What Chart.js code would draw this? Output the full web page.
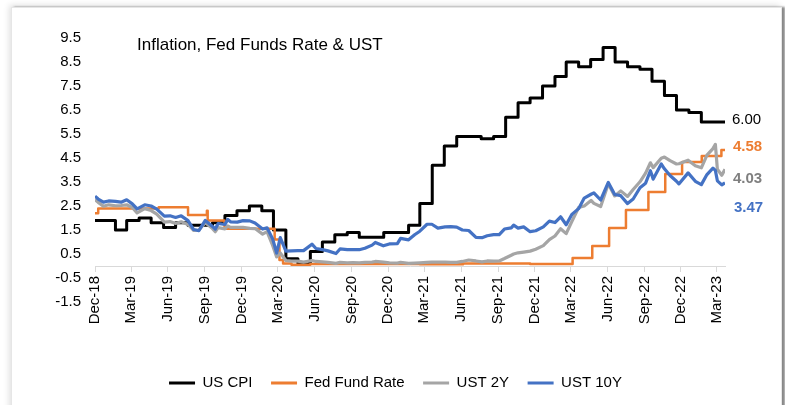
<!DOCTYPE html>
<html><head><meta charset="utf-8">
<script src="https://cdn.jsdelivr.net/npm/chart.js@4.4.1/dist/chart.umd.min.js"></script>
<style>
html,body{margin:0;padding:0;background:#fff;width:785px;height:405px;overflow:hidden;}
#frame{position:absolute;left:11px;top:7px;width:769px;height:420px;background:#fff;border:1px solid #e6e6e6;box-shadow:-2px -2px 6px rgba(0,0,0,0.12), 3px 0 2px rgba(0,0,0,0.45);}
#c{position:absolute;left:0;top:0;}
</style></head><body>
<div id="frame"></div>
<canvas id="c" width="785" height="405"></canvas>
<script>
// ---------- data ----------
const chartTitle = 'Inflation, Fed Funds Rate & UST';
const seriesNames = ['US CPI', 'Fed Fund Rate', 'UST 2Y', 'UST 10Y'];
const endLabels = ['6.00', '4.58', '4.03', '3.47'];

const xStart = '2018-12-12';
const xEnd = '2023-04-01';
const xTickDates = ['2018-12-12','2019-03-12','2019-06-12','2019-09-12','2019-12-12','2020-03-12','2020-06-12','2020-09-12','2020-12-12','2021-03-12','2021-06-12','2021-09-12','2021-12-12','2022-03-12','2022-06-12','2022-09-12','2022-12-12','2023-03-12'];
const xTickLabels = ['Dec-18','Mar-19','Jun-19','Sep-19','Dec-19','Mar-20','Jun-20','Sep-20','Dec-20','Mar-21','Jun-21','Sep-21','Dec-21','Mar-22','Jun-22','Sep-22','Dec-22','Mar-23'];
const yTicks = [-1.5,-0.5,0.5,1.5,2.5,3.5,4.5,5.5,6.5,7.5,8.5,9.5];

// US CPI YoY, monthly from Dec-18
const cpiMonths = ['2018-12','2019-01','2019-02','2019-03','2019-04','2019-05','2019-06','2019-07','2019-08','2019-09','2019-10','2019-11','2019-12',
 '2020-01','2020-02','2020-03','2020-04','2020-05','2020-06','2020-07','2020-08','2020-09','2020-10','2020-11','2020-12',
 '2021-01','2021-02','2021-03','2021-04','2021-05','2021-06','2021-07','2021-08','2021-09','2021-10','2021-11','2021-12',
 '2022-01','2022-02','2022-03','2022-04','2022-05','2022-06','2022-07','2022-08','2022-09','2022-10','2022-11','2022-12',
 '2023-01','2023-02'];
const cpiValues = [1.9,1.9,1.5,1.9,2.0,1.8,1.6,1.8,1.7,1.7,1.8,2.1,2.3,
 2.5,2.3,1.5,0.3,0.1,0.6,1.0,1.3,1.4,1.2,1.2,1.4,
 1.4,1.7,2.6,4.2,5.0,5.4,5.4,5.3,5.4,6.2,6.8,7.0,
 7.5,7.9,8.5,8.3,8.6,9.1,8.5,8.3,8.2,7.7,7.1,6.5,
 6.4,6.0];

// Fed funds effective rate, change dates
const fedDates = ['2018-12-12','2018-12-20','2019-05-20','2019-08-01','2019-09-17','2019-09-19','2019-10-31','2020-03-04','2020-03-16','2020-03-25','2020-04-15','2020-06-01','2021-03-01','2021-06-17','2021-12-01','2022-03-17','2022-05-05','2022-06-16','2022-07-28','2022-09-22','2022-11-03','2022-12-15','2023-02-02','2023-03-23'];
const fedValues = [2.20,2.40,2.45,2.13,2.30,1.90,1.55,1.10,0.25,0.10,0.05,0.08,0.07,0.10,0.08,0.33,0.83,1.58,2.33,3.08,3.83,4.33,4.58,4.83];

// Treasury yields
const ustDates = ['2018-12-12','2018-12-20','2019-01-02','2019-01-15','2019-02-01','2019-02-15','2019-03-01','2019-03-15','2019-03-27','2019-04-15','2019-05-01','2019-05-15','2019-06-03','2019-06-17','2019-07-01','2019-07-15','2019-08-01','2019-08-15','2019-08-28','2019-09-13','2019-10-01','2019-10-08','2019-10-15','2019-11-01','2019-11-08','2019-11-15','2019-12-02','2019-12-16',
 '2020-01-02','2020-01-15','2020-02-03','2020-02-14','2020-02-28','2020-03-09','2020-03-18','2020-04-01','2020-04-15','2020-05-01','2020-05-15','2020-06-05','2020-06-15','2020-07-01','2020-07-15','2020-08-04','2020-08-14','2020-09-01','2020-09-15','2020-10-01','2020-10-15','2020-11-02','2020-11-10','2020-11-30','2020-12-15',
 '2021-01-04','2021-01-12','2021-02-01','2021-02-16','2021-03-01','2021-03-19','2021-03-31','2021-04-15','2021-05-03','2021-05-17','2021-06-01','2021-06-15','2021-07-01','2021-07-19','2021-08-03','2021-08-16','2021-09-01','2021-09-15','2021-09-28','2021-10-15','2021-10-21','2021-11-01','2021-11-15','2021-12-01','2021-12-15',
 '2022-01-03','2022-01-18','2022-02-01','2022-02-15','2022-03-01','2022-03-15','2022-04-01','2022-04-15','2022-05-02','2022-05-09','2022-05-26','2022-06-14','2022-06-30','2022-07-15','2022-08-01','2022-08-15','2022-09-01','2022-09-15','2022-09-27','2022-10-04','2022-10-24','2022-11-01','2022-11-15','2022-12-01','2022-12-07','2022-12-30',
 '2023-01-17','2023-02-01','2023-02-15','2023-03-02','2023-03-08','2023-03-13','2023-03-24','2023-04-01'];
const ust2y = [2.77,2.65,2.49,2.55,2.51,2.52,2.55,2.44,2.21,2.39,2.31,2.16,1.83,1.85,1.77,1.84,1.73,1.48,1.50,1.80,1.56,1.43,1.60,1.55,1.67,1.61,1.61,1.61,
 1.57,1.56,1.33,1.43,0.86,0.38,0.54,0.23,0.20,0.20,0.16,0.23,0.19,0.17,0.15,0.11,0.15,0.13,0.14,0.13,0.15,0.16,0.19,0.16,0.13,
 0.12,0.15,0.11,0.12,0.13,0.15,0.16,0.16,0.16,0.15,0.15,0.19,0.25,0.21,0.17,0.21,0.20,0.21,0.31,0.45,0.50,0.55,0.58,0.62,0.70,
 0.85,1.10,1.25,1.55,1.35,1.85,2.44,2.50,2.73,2.61,2.48,3.43,2.92,3.13,2.90,3.19,3.51,3.87,4.30,4.10,4.49,4.54,4.39,4.25,4.26,4.41,
 4.18,4.09,4.62,4.89,5.07,4.03,3.78,4.03];
const ust10y = [2.91,2.79,2.66,2.71,2.69,2.66,2.76,2.59,2.38,2.55,2.50,2.37,2.08,2.09,2.02,2.09,1.89,1.52,1.47,1.90,1.65,1.54,1.77,1.73,1.94,1.84,1.83,1.89,
 1.88,1.79,1.54,1.59,1.13,0.54,1.18,0.62,0.63,0.64,0.64,0.91,0.73,0.68,0.63,0.52,0.71,0.68,0.68,0.68,0.74,0.87,0.98,0.84,0.92,
 0.93,1.15,1.09,1.30,1.45,1.74,1.74,1.58,1.63,1.64,1.62,1.50,1.48,1.19,1.18,1.26,1.31,1.31,1.54,1.59,1.70,1.58,1.63,1.43,1.47,
 1.63,1.87,1.81,2.05,1.72,2.15,2.39,2.83,2.99,3.05,2.75,3.48,2.98,2.93,2.60,2.79,3.26,3.45,3.97,3.62,4.25,4.05,3.77,3.53,3.42,3.88,
 3.53,3.39,3.81,4.08,3.98,3.55,3.38,3.47];

// ---------- helpers ----------
const T0 = Date.UTC(2018, 11, 12);
function day(s) {
  const p = s.split('-').map(Number);
  return Math.round((Date.UTC(p[0], p[1] - 1, p[2] || 1) - T0) / 86400000);
}
const xMax = day(xEnd);
function pts(dates, vals, extend) {
  const out = dates.map((d, i) => ({x: day(d), y: vals[i]}));
  if (extend) out.push({x: xMax, y: vals[vals.length - 1]});
  return out;
}
const FONT = '"Liberation Sans", Arial, sans-serif';

const insideTitle = {
  id: 'insideTitle',
  afterDraw(chart) {
    const {ctx, chartArea} = chart;
    ctx.save();
    ctx.font = '17px ' + FONT;
    ctx.fillStyle = '#000';
    ctx.textBaseline = 'alphabetic';
    ctx.textAlign = 'left';
    ctx.fillText(chartTitle, chartArea.left + 42, chartArea.top + 12);
    ctx.restore();
  }
};

const endLabelCfg = [
  {color: '#000000', bold: false, at: 5.92, dx: 7},
  {color: '#ED7D31', bold: true, at: 4.79, dx: 8},
  {color: '#7F7F7F', bold: true, at: 3.45, dx: 8},
  {color: '#4472C4', bold: true, at: 2.24, dx: 9}
];
const endLabelPlugin = {
  id: 'endLabels',
  afterDraw(chart) {
    const {ctx, chartArea, scales} = chart;
    ctx.save();
    ctx.textBaseline = 'alphabetic';
    ctx.textAlign = 'left';
    endLabels.forEach((t, i) => {
      const c = endLabelCfg[i];
      ctx.font = (c.bold ? 'bold ' : '') + '15px ' + FONT;
      ctx.fillStyle = c.color;
      ctx.fillText(t, chartArea.right + c.dx, scales.y.getPixelForValue(c.at));
    });
    ctx.restore();
  }
};

const colors = ['#000000', '#ED7D31', '#A5A5A5', '#4472C4'];

new Chart(document.getElementById('c'), {
  type: 'line',
  data: {
    datasets: [
      {label: seriesNames[0], data: pts(cpiMonths, cpiValues, true), borderColor: colors[0], backgroundColor: colors[0], borderWidth: 3, stepped: 'before', order: 4},
      {label: seriesNames[1], data: pts(fedDates, fedValues, true), borderColor: colors[1], backgroundColor: colors[1], borderWidth: 2.5, stepped: 'before', order: 3},
      {label: seriesNames[2], data: pts(ustDates, ust2y, false), borderColor: colors[2], backgroundColor: colors[2], borderWidth: 3.2, tension: 0, order: 2},
      {label: seriesNames[3], data: pts(ustDates, ust10y, false), borderColor: colors[3], backgroundColor: colors[3], borderWidth: 3.2, tension: 0, order: 1}
    ]
  },
  options: {
    responsive: false,
    animation: false,
    devicePixelRatio: 1,
    elements: {point: {radius: 0}, line: {borderJoinStyle: 'round', borderCapStyle: 'butt'}},
    layout: {padding: {left: 66, right: 60, top: 38, bottom: 4.5}},
    scales: {
      x: {
        type: 'linear',
        min: 0,
        max: xMax,
        position: {y: 0},
        afterBuildTicks: s => { s.ticks = xTickDates.map(d => ({value: day(d)})); },
        ticks: {autoSkip: false, minRotation: 90, maxRotation: 90, padding: 5, color: '#000',
                font: {family: FONT, size: 15},
                callback: (v, i) => xTickLabels[i]},
        grid: {display: true, drawOnChartArea: false, drawTicks: true, tickLength: 5, color: '#d9d9d9'},
        border: {display: true, color: '#d9d9d9', width: 1}
      },
      y: {
        type: 'linear',
        min: -1.5,
        max: 9.5,
        afterBuildTicks: s => { s.ticks = yTicks.map(v => ({value: v})); },
        afterFit: s => { s.width = 29; s._computeLabelArea = () => undefined; },
        ticks: {padding: 14, color: '#000', font: {family: FONT, size: 15}, callback: v => Number(v).toFixed(1)},
        grid: {display: false, drawTicks: false},
        border: {display: false}
      }
    },
    plugins: {
      tooltip: {enabled: false},
      legend: {
        position: 'bottom',
        align: 'center',
        title: {display: true, text: '', padding: {top: 45, bottom: 0}, font: {size: 10, lineHeight: 1}},
        labels: {
          boxWidth: 26, boxHeight: 3, padding: 18.5, color: '#000',
          font: {family: FONT, size: 15},
          sort: (a, b) => a.datasetIndex - b.datasetIndex,
          generateLabels: chart => Chart.defaults.plugins.legend.labels.generateLabels(chart)
            .map(l => Object.assign(l, {fillStyle: l.strokeStyle, lineWidth: 0}))
        }
      }
    }
  },
  plugins: [insideTitle, endLabelPlugin]
});
</script>
</body></html>
